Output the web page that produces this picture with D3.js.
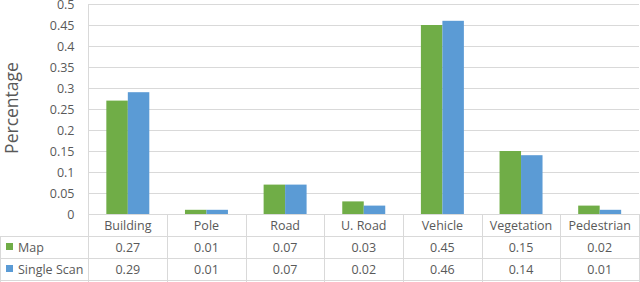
<!DOCTYPE html>
<html><head><meta charset="utf-8">
<script src="https://cdn.jsdelivr.net/npm/d3@7"></script>
<style>body{margin:0;background:#fff}svg{display:block}text{font-family:"Open Sans","Noto Sans",sans-serif;fill:#595959}</style>
</head><body><svg id="c" width="640" height="282"></svg>
<script>
const categories = ["Building","Pole","Road","U. Road","Vehicle","Vegetation","Pedestrian"];
const seriesNames = ["Map","Single Scan"];
const mapValues = [0.27,0.01,0.07,0.03,0.45,0.15,0.02];
const scanValues = [0.29,0.01,0.07,0.02,0.46,0.14,0.01];
const mapLabels = ["0.27","0.01","0.07","0.03","0.45","0.15","0.02"];
const scanLabels = ["0.29","0.01","0.07","0.02","0.46","0.14","0.01"];
const yTicks = [0,0.05,0.1,0.15,0.2,0.25,0.3,0.35,0.4,0.45,0.5];
const colors = ["#70ad47","#5b9bd5"];

const svg = d3.select("#c");
const L = 88.5, R = 639, T = 4, B = 214;
const x = d3.scaleBand().domain(categories).range([L, R]).paddingInner(0).paddingOuter(0);
const xs = d3.scaleBand().domain(seriesNames).range([0, x.bandwidth()]).paddingInner(0).paddingOuter(0.83);
const y = d3.scaleLinear().domain([0, 0.5]).range([B, T]);
const grid = "#d9d9d9";

// gridlines
svg.append("g").selectAll("line").data(yTicks).join("line")
  .attr("x1", L).attr("x2", R).attr("y1", d => Math.round(y(d)) + 0.5).attr("y2", d => Math.round(y(d)) + 0.5)
  .attr("stroke", grid).attr("stroke-width", 1);
// y labels
const yAxis = d3.axisLeft(y).tickValues(yTicks).tickSize(0).tickPadding(0).tickFormat(d => String(d));
const ga = svg.append("g").attr("transform", `translate(${L - 14},0)`).call(yAxis);
ga.select(".domain").remove();
ga.selectAll("text").attr("font-size", 12.5).style("fill", "#595959").style("font-family", '"Open Sans",sans-serif');

// y title
svg.append("text").attr("transform", "translate(18,108) rotate(-90)").attr("text-anchor", "middle")
  .attr("font-size", 17.5).text("Percentage");

// bars
const series = [mapValues, scanValues];
series.forEach((vals, si) => {
  svg.append("g").selectAll("rect").data(vals).join("rect")
    .attr("x", (d, i) => x(categories[i]) + xs(seriesNames[si]))
    .attr("width", xs.bandwidth())
    .attr("y", d => y(d)).attr("height", d => B - y(d))
    .attr("fill", colors[si]);
});

// table
const rowH = 22;
const rows = [B, B + rowH, B + 2 * rowH, B + 3 * rowH];
const tg = svg.append("g");
tg.append("line").attr("x1", L).attr("x2", L).attr("y1", T).attr("y2", 282).attr("stroke", grid);
categories.forEach((c, i) => {
  const xx = Math.round(x(c) + x.bandwidth()) + 0.5;
  tg.append("line").attr("x1", xx).attr("x2", xx).attr("y1", B).attr("y2", 282).attr("stroke", grid);
});
tg.append("line").attr("x1", 0.5).attr("x2", 0.5).attr("y1", rows[1]).attr("y2", 282).attr("stroke", grid);
[rows[1], rows[2], rows[3] - 0.5].forEach(yy => {
  tg.append("line").attr("x1", 0).attr("x2", R).attr("y1", Math.round(yy) + 0.5).attr("y2", Math.round(yy) + 0.5).attr("stroke", grid);
});
tg.selectAll("text.cat").data(categories).join("text").attr("class", "cat")
  .attr("x", d => x(d) + x.bandwidth() / 2).attr("y", B + rowH / 2 + 4.5)
  .attr("text-anchor", "middle").attr("font-size", 12.5).text(d => d);
[mapLabels, scanLabels].forEach((labs, si) => {
  const cy = rows[1 + si] + rowH / 2 + 4.5;
  tg.selectAll("text.v" + si).data(labs).join("text").attr("class", "v" + si)
    .attr("x", (d, i) => x(categories[i]) + x.bandwidth() / 2).attr("y", cy)
    .attr("text-anchor", "middle").attr("font-size", 12.5).text(d => d);
  tg.append("rect").attr("x", 6).attr("y", rows[1 + si] + 7).attr("width", 7).attr("height", 7).attr("fill", colors[si]);
  tg.append("text").attr("x", 18).attr("y", cy).attr("font-size", 12.5).text(seriesNames[si]);
});
</script></body></html>
